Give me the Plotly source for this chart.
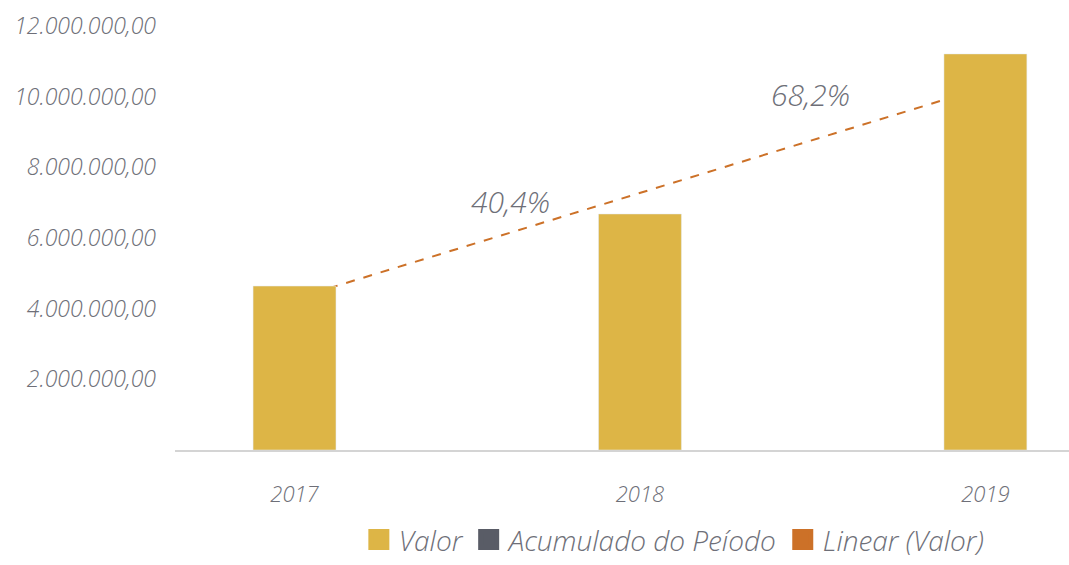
import plotly.graph_objects as go

# Data
years = ["2017", "2018", "2019"]
valor = [4_640_000, 6_680_000, 11_210_000]
acumulado = [None, None, None]
# Linear (Valor) trend, values at the first and last year
trend_years = ["2017", "2019"]
trend_values = [4_280_000, 10_270_000]
growth_labels = ["40,4%", "68,2%"]
growth_label_pos = [(0.624, 7_020_000), (1.495, 10_050_000)]

GOLD = "#DDB546"
DARK = "#595C66"
ORANGE = "#CC7128"
TEXT = "#6E6F78"
FONT = "Open Sans"

x_idx = list(range(len(years)))
trend_x = [years.index(y) for y in trend_years]

fig = go.Figure()

# Trend line sits on the base axes so the bars (overlay axes) cover it
fig.add_trace(go.Scatter(
    x=trend_x, y=trend_values, mode="lines",
    line=dict(color=ORANGE, width=2, dash="dash"),
    showlegend=False, hoverinfo="skip",
    xaxis="x", yaxis="y",
))

fig.add_trace(go.Bar(
    x=x_idx, y=valor, width=0.24, marker_color=GOLD,
    showlegend=False, xaxis="x2", yaxis="y2",
))
fig.add_trace(go.Bar(
    x=x_idx, y=acumulado, width=0.24, marker_color=DARK,
    showlegend=False, xaxis="x2", yaxis="y2",
))

# Legend entries (square swatches)
for name, col in [("Valor", GOLD), ("Acumulado do Peíodo", DARK), ("Linear (Valor)", ORANGE)]:
    fig.add_trace(go.Scatter(
        x=[None], y=[None], mode="markers", name=name,
        marker=dict(symbol="square", size=16, color=col, line=dict(color=col, width=6)),
        xaxis="x2", yaxis="y2",
    ))

xr = [-0.346, 2.242]
yr = [0, 12_000_000]

for (xlabel, ylabel), txt in zip(growth_label_pos, growth_labels):
    fig.add_annotation(
        x=xlabel, y=ylabel, xref="x", yref="y", text=txt, showarrow=False,
        font=dict(family=FONT, size=30, color=TEXT, style="italic", weight=300),
    )

fig.update_layout(
    width=1069, height=565,
    margin=dict(l=175, r=0, t=26, b=115, autoexpand=False),
    paper_bgcolor="white", plot_bgcolor="white",
    separators=",.",
    xaxis=dict(
        range=xr, tickvals=x_idx, ticktext=years, showgrid=False, zeroline=False,
        showline=True, linecolor="#D4D4D4", linewidth=2, ticks="",
        ticklabelstandoff=24,
        tickfont=dict(family=FONT, size=22, color=TEXT, style="italic", weight=300),
    ),
    yaxis=dict(
        range=yr, tickvals=[2e6, 4e6, 6e6, 8e6, 10e6, 12e6], tickformat=",.2f",
        showgrid=False, zeroline=False, showline=False, ticks="",
        ticklabelstandoff=18,
        tickfont=dict(family=FONT, size=23, color=TEXT, style="italic", weight=300),
    ),
    xaxis2=dict(overlaying="x", range=xr, visible=False),
    yaxis2=dict(overlaying="y", range=yr, visible=False),
    legend=dict(
        orientation="h", x=0.558, xanchor="center", y=-0.271, yanchor="bottom",
        font=dict(family=FONT, size=28, color=TEXT, style="italic", weight=300),
        itemclick=False, borderwidth=0, tracegroupgap=0,
    ),
    barmode="overlay",
)

fig.write_html("out.html")
